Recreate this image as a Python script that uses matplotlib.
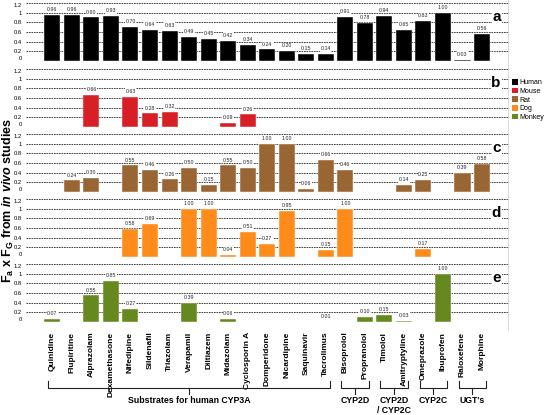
import numpy as np
import matplotlib.pyplot as plt
from matplotlib.patches import Patch
from matplotlib.lines import Line2D
from matplotlib import transforms

plt.rcParams['font.family'] = ['Liberation Sans', 'DejaVu Sans']
plt.rcParams['mathtext.fontset'] = 'custom'
plt.rcParams['mathtext.rm'] = 'Liberation Sans:bold'
plt.rcParams['mathtext.it'] = 'Liberation Sans:italic:bold'
plt.rcParams['mathtext.bf'] = 'Liberation Sans:bold'

nan = np.nan
drugs = ['Quinidine', 'Flupiritine', 'Alprazolam', 'Dexamethasone', 'Nifedipine',
         'Sildenafil', 'Triazolam', 'Verapamil', 'Diltiazem', 'Midazolam',
         'Cyclosporin A', 'Domperidone', 'Nicardipine', 'Saquinavir', 'Tacrolimus',
         'Bisoprolol', 'Propranolol', 'Timolol', 'Amitryptyline', 'Omeprazole',
         'Ibuprofen', 'Raloxefene', 'Morphine']

human = [0.96, 0.96, 0.90, 0.93, 0.70, 0.64, 0.63, 0.49, 0.45, 0.42, 0.34, 0.24,
         0.20, 0.15, 0.14, 0.91, 0.78, 0.94, 0.65, 0.83, 1.00, 0.03, 0.56]
mouse = [nan, nan, 0.66, nan, 0.63, 0.28, 0.32, nan, nan, 0.09, 0.26, nan,
         nan, nan, nan, nan, nan, nan, nan, nan, nan, nan, nan]
rat = [nan, 0.24, 0.30, nan, 0.55, 0.46, 0.26, 0.50, 0.15, 0.55, 0.50, 1.00,
       1.00, 0.06, 0.66, 0.46, nan, nan, 0.14, 0.25, nan, 0.39, 0.58]
dog = [nan, nan, nan, nan, 0.58, 0.69, nan, 1.00, 1.00, 0.04, 0.51, 0.27,
       0.95, nan, 0.15, 1.00, nan, nan, nan, 0.17, nan, nan, nan]
monkey = [0.07, nan, 0.55, 0.85, 0.27, nan, nan, 0.39, nan, 0.06, nan, nan,
          nan, nan, 0.01, nan, 0.10, 0.15, 0.03, nan, 1.00, nan, nan]

species = ['Human', 'Mouse', 'Rat', 'Dog', 'Monkey']
colors = ['#000000', '#d91f26', '#996633', '#ff8c1a', '#65891f']
letters = ['a', 'b', 'c', 'd', 'e']
series = [human, mouse, rat, dog, monkey]

# brackets: (first bar, last bar, label)
groups = [(0, 14, 'Substrates for human CYP3A'), (15, 16, 'CYP2D'),
          (17, 18, 'CYP2D\n/ CYP2C'), (19, 20, 'CYP2C'), (21, 22, "UGT's")]

W, H = 544, 415
fig = plt.figure(figsize=(W / 100, H / 100), dpi=100)

x = np.arange(len(drugs))
tops = [3, 69, 134, 199, 264]
ph = 58
axes = []
for k, (vals, col, let) in enumerate(zip(series, colors, letters)):
    top = tops[k]
    ax = fig.add_axes([26 / W, 1 - (top + ph) / H, (508 - 26) / W, ph / H])
    axes.append(ax)
    v = np.array(vals, dtype=float)
    ax.set_ylim(0, 1.2)
    ax.set_xlim(-1.35, 22 + 1.33)
    ax.set_yticks(np.arange(0, 1.21, 0.2))
    ax.set_yticklabels(['0', '0.2', '0.4', '0.6', '0.8', '1', '1.2'], fontsize=4.2)
    ticklabs = ax.get_yticklabels()
    ticklabs[0].set_va('bottom')
    ticklabs[-1].set_va('top')
    ax.tick_params(axis='y', length=0, pad=3)
    ax.grid(axis='y', linestyle=(0, (2, 1)), color='#222222', linewidth=0.6)
    ax.set_axisbelow(True)
    for s in ax.spines.values():
        s.set_visible(False)
    ax.bar(x, np.nan_to_num(v), width=0.82, color=col, edgecolor='white',
           linewidth=0.3, zorder=2)
    for xi, yi in zip(x, v):
        if not np.isnan(yi):
            ax.text(xi, yi + 0.06, '%.2f' % yi, ha='center', va='bottom', fontsize=3.8,
                    color='#222222', zorder=3,
                    bbox=dict(facecolor='white', edgecolor='none', pad=0.3))
    ax.text(0.985, 0.76, let, transform=ax.transAxes, ha='right', va='center',
            fontsize=11, fontweight='bold', zorder=4,
            bbox=dict(facecolor='white', edgecolor='none', pad=0.5))
    if k < 4:
        ax.set_xticks([])
    else:
        ax.set_xticks(x)
        ax.set_xticklabels(drugs, rotation=90, fontsize=6, fontweight='bold', va='top')
        ax.tick_params(axis='x', length=0, pad=7)

# light frame line on the right
fig.add_artist(Line2D([508 / W, 508 / W], [1 - 330 / H, 1], color='#dddddd',
                      linewidth=0.8, transform=fig.transFigure))

# brackets under the drug names
bax = axes[-1]
tr = transforms.blended_transform_factory(bax.transData, fig.transFigure)
yb = 1 - 388 / H
yu = 1 - 381 / H
yd = 1 - 394 / H
for i0, i1, lab in groups:
    a, b = i0 - 0.2, i1 + 0.2
    m = (a + b) / 2
    fig.add_artist(Line2D([a, a, b, b], [yu, yb, yb, yu], color='#222222',
                          linewidth=0.8, transform=tr))
    fig.add_artist(Line2D([m, m], [yb, yd], color='#222222', linewidth=0.8,
                          transform=tr))
    fig.text(m, 1 - 396 / H, lab, transform=tr, ha='center', va='top',
             fontsize=6.3, fontweight='bold', linespacing=1.15)

fig.text(0.015, 1 - 200 / H,
         r'$\mathrm{F}_\mathrm{a}$ x $\mathrm{F}_\mathrm{G}$ from $\mathit{in\ vivo}$ studies',
         rotation=90, ha='center', va='center', fontsize=9, fontweight='bold')

handles = [Patch(facecolor=c, edgecolor='none') for c in colors]
fig.legend(handles, species, loc='upper left', bbox_to_anchor=(512 / W, 1 - 79 / H),
           frameon=False, fontsize=5, handlelength=0.9, handleheight=0.9,
           handletextpad=0.2, labelspacing=0.2, borderpad=0, borderaxespad=0)

fig.savefig('out.png', dpi=100)
